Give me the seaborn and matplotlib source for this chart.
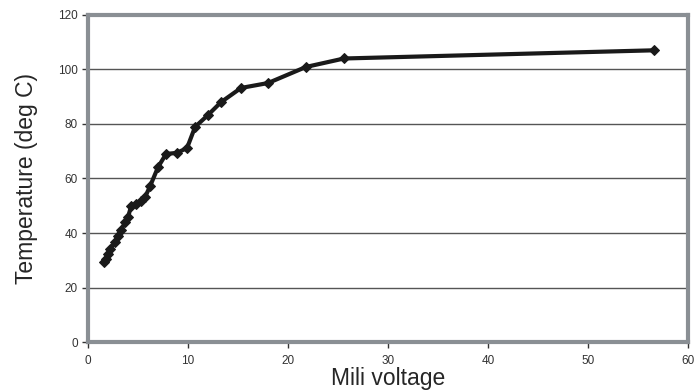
import numpy as np
import pandas as pd
import matplotlib
matplotlib.use("Agg")
import matplotlib.pyplot as plt
import seaborn as sns

sns.set_theme(style="white")
plt.rcParams['font.family'] = ['Liberation Sans', 'DejaVu Sans']

# data
mv = [1.6, 1.8, 2.0, 2.2, 2.7, 3.0, 3.3, 3.7, 4.0, 4.3, 4.8, 5.3, 5.7, 6.2,
      7.0, 7.8, 8.9, 9.9, 10.7, 12.0, 13.3, 15.3, 18.0, 21.8, 25.6, 56.6]
temp = [29.5, 30.5, 32.3, 34.1, 36.7, 38.9, 41.1, 44.0, 45.9, 49.9, 50.6, 51.7,
        53.2, 57.2, 64.2, 69.0, 69.4, 71.2, 78.9, 83.3, 88.0, 93.2, 95.0,
        100.9, 104.0, 107.0]
xticks = [0, 10, 20, 30, 40, 50, 60]
yticks = [0, 20, 40, 60, 80, 100, 120]

df = pd.DataFrame({'mv': mv, 'temp': temp})

fig = plt.figure(figsize=(6.94, 3.91), dpi=100)
ax = fig.add_axes([0.127, 0.125, 0.864, 0.837])

sns.lineplot(data=df, x='mv', y='temp', sort=False, color='#1a1a1a',
             linewidth=3, marker='D', markersize=5.5, markeredgecolor='#1a1a1a',
             ax=ax)

ax.set_xlim(0, 60)
ax.set_ylim(0, 120)
ax.set_xticks(xticks)
ax.set_yticks(yticks)
ax.tick_params(axis='both', labelsize=8.5, colors='#333333', length=4, width=1,
               direction='out', bottom=True, left=True)
ax.tick_params(axis='x', pad=5)
for y in yticks[1:-1]:
    ax.axhline(y, color='#555555', linewidth=1, zorder=0)

for s in ax.spines.values():
    s.set_color('#8a8f94')
    s.set_linewidth(3)

ax.set_xlabel('Mili voltage', fontsize=16.5, labelpad=0, fontstretch='condensed')
ax.set_ylabel('Temperature (deg C)', fontsize=16.5, labelpad=14)

fig.savefig('out.png', dpi=100)
